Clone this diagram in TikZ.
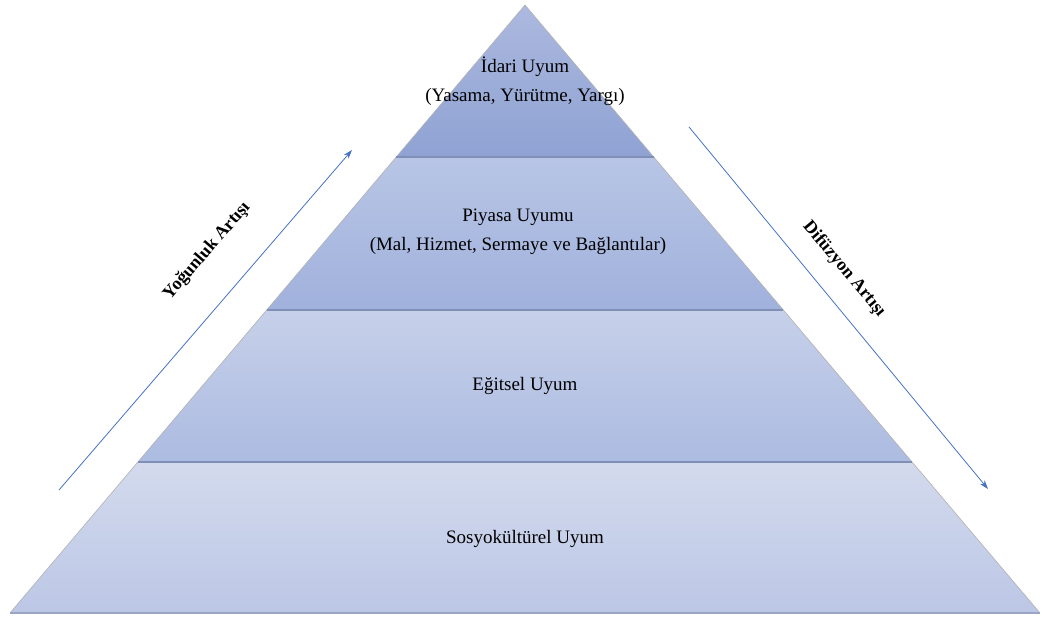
\documentclass[tikz,border=0pt]{standalone}
\usepackage{fontspec}
\setmainfont{Liberation Serif}
\usetikzlibrary{calc,arrows.meta}

\definecolor{topA}{RGB}{172,185,223}
\definecolor{botA}{RGB}{143,162,211}
\definecolor{topB}{RGB}{184,197,229}
\definecolor{botB}{RGB}{160,177,220}
\definecolor{topC}{RGB}{198,208,233}
\definecolor{botC}{RGB}{172,187,225}
\definecolor{topD}{RGB}{211,218,237}
\definecolor{botD}{RGB}{188,199,230}
\definecolor{sepline}{RGB}{128,143,182}
\definecolor{arrowblue}{RGB}{68,114,196}

\newcommand*{\labelsize}{\fontsize{19}{29}\selectfont}
\newcommand*{\sidesize}{\fontsize{18}{22}\selectfont\bfseries}

\begin{document}
\begin{tikzpicture}
[
	x=1pt, y=-1pt,
	layertext/.style={align=center,inner sep=0pt,font=\labelsize},
	sidetext/.style={inner sep=0pt,font=\sidesize},
	separator/.style={sepline,line width=1.6pt},
	flow/.style={arrowblue,line width=0.8pt,-{Stealth[length=9pt,width=6pt]}}
]

	\useasboundingbox (0,0) rectangle (1042,617);

	% pyramid corners
	\coordinate (apex) at (525,5);
	\coordinate (bl) at (10,613);
	\coordinate (br) at (1040,613);
	\coordinate (l1) at ($(apex)!0.25!(bl)$);
	\coordinate (r1) at ($(apex)!0.25!(br)$);
	\coordinate (l2) at ($(apex)!0.5016!(bl)$);
	\coordinate (r2) at ($(apex)!0.5016!(br)$);
	\coordinate (l3) at ($(apex)!0.7516!(bl)$);
	\coordinate (r3) at ($(apex)!0.7516!(br)$);

	% layers
	\shade[top color=topA,bottom color=botA] (apex) -- (r1) -- (l1) -- cycle;
	\shade[top color=topB,bottom color=botB] (l1) -- (r1) -- (r2) -- (l2) -- cycle;
	\shade[top color=topC,bottom color=botC] (l2) -- (r2) -- (r3) -- (l3) -- cycle;
	\shade[top color=topD,bottom color=botD] (l3) -- (r3) -- (br) -- (bl) -- cycle;

	% edges
	\draw[gray!60,line width=0.6pt] (bl) -- (apex) -- (br);
	\draw[separator] (l1) -- (r1);
	\draw[separator] (l2) -- (r2);
	\draw[separator] (l3) -- (r3);
	\draw[sepline!80,line width=1.2pt] (bl) -- (br);

	% layer labels
	\node[layertext] (idari) at (525,81) {İdari Uyum\\(Yasama, Yürütme, Yargı)};
	\node[layertext] (piyasa) at (518,232) {Piyasa Uyumu\\(Mal, Hizmet, Sermaye ve Bağlantılar)};
	\node[layertext] (egitsel) at (525,386) {Eğitsel Uyum};
	\node[layertext] (sosyo) at (525,539) {Sosyokültürel Uyum};

	% side arrows
	\coordinate (yogunstart) at (59,490);
	\coordinate (yogunend) at (352,150);
	\coordinate (difuzstart) at (689,127);
	\coordinate (difuzend) at (988,489);
	\draw[flow] (yogunstart) -- (yogunend);
	\draw[flow] (difuzstart) -- (difuzend);

	\node[sidetext,rotate=49] (yogun) at (207,251) {Yoğunluk Artışı};
	\node[sidetext,rotate=-50] (difuz) at (844,269) {Difüzyon Artışı};

\end{tikzpicture}
\end{document}
